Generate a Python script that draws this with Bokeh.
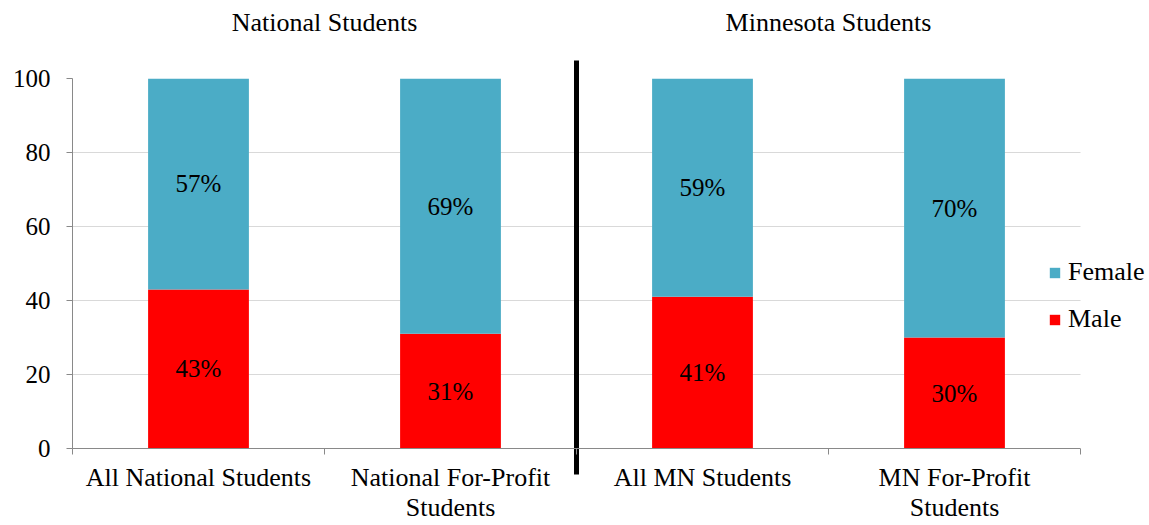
from bokeh.plotting import figure
from bokeh.models import (Range1d, LinearAxis, FixedTicker, Legend, LegendItem,
                          BoxAnnotation, ColumnDataSource)
from bokeh.core.properties import value
from bokeh.embed import file_html
from bokeh.resources import INLINE

# ---- data ----
categories = ["All National Students", "National For-Profit\nStudents",
              "All MN Students", "MN For-Profit\nStudents"]
group_titles = ["National Students", "Minnesota Students"]
group_sizes = [2, 2]
male = [43, 31, 41, 30]
female = [57, 69, 59, 70]
y_ticks = [0, 20, 40, 60, 80, 100]

FONT = "Liberation Serif"
GFONT = value(FONT)
AXIS_GRAY = "#898989"
GRID_GRAY = "#D9D9D9"
TEAL = "#4BACC6"
RED = "#FF0000"

# ---- layout constants (pixels) ----
W, H = 1149, 525
LEFT, TOP, BOTTOM = 72, 78, 76
CAT_AREA_W = 1008            # width taken by the four categories

n = len(categories)
centers = [i + 0.5 for i in range(n)]
edges = [float(i) for i in range(n + 1)]
x_end = n * (W - LEFT) / CAT_AREA_W

group_centers, group_edges, s = [], [], 0
for g in group_sizes:
    group_centers.append(s + g / 2)
    s += g
    group_edges.append(float(s))
separators = group_edges[:-1]

src = ColumnDataSource(dict(
    x=centers,
    Male=male,
    Female=female,
    male_mid=[m / 2 for m in male],
    female_mid=[m + f / 2 for m, f in zip(male, female)],
    male_lbl=[f"{m}%" for m in male],
    female_lbl=[f"{f}%" for f in female],
))

p = figure(x_range=Range1d(0, x_end), y_range=Range1d(0, 100),
           width=W, height=H, output_backend="svg", toolbar_location=None,
           x_axis_location=None, min_border_left=LEFT, min_border_right=0,
           min_border_top=TOP, min_border_bottom=BOTTOM, outline_line_color=None,
           background_fill_color="white", border_fill_color="white")

# ---- y axis ----
yt = FixedTicker(ticks=y_ticks)
p.yaxis.ticker = yt
p.ygrid.ticker = yt
p.yaxis.axis_line_color = AXIS_GRAY
p.yaxis.major_tick_line_color = AXIS_GRAY
p.yaxis.major_tick_out = 6
p.yaxis.major_tick_in = 0
p.yaxis.minor_tick_line_color = None
p.yaxis.major_label_standoff = 16
p.yaxis.major_label_text_font = FONT
p.yaxis.major_label_text_font_size = "25px"
p.yaxis.major_label_text_color = "black"
p.ygrid.grid_line_color = GRID_GRAY
p.ygrid.grid_line_width = 1
p.xgrid.grid_line_color = None

# ---- x axis (category labels, boundary ticks as minor ticks) ----
xaxis = LinearAxis(ticker=FixedTicker(ticks=centers, minor_ticks=edges),
                   major_label_overrides={c: t for c, t in zip(centers, categories)},
                   bounds=(0, n),
                   axis_line_color=AXIS_GRAY,
                   major_tick_line_color=None, major_tick_out=0, major_tick_in=0,
                   minor_tick_line_color=AXIS_GRAY, minor_tick_out=6, minor_tick_in=0,
                   major_label_standoff=8,
                   major_label_text_font=FONT, major_label_text_font_size="26px",
                   major_label_text_color="black",
                   major_label_text_line_height=1.06)
p.add_layout(xaxis, "below")

# ---- top axis: group titles + separator line (as a long minor tick) ----
taxis = LinearAxis(ticker=FixedTicker(ticks=group_centers, minor_ticks=separators),
                   major_label_overrides={c: t for c, t in zip(group_centers, group_titles)},
                   axis_line_color=None,
                   major_tick_line_color=None, major_tick_out=0, major_tick_in=0,
                   minor_tick_line_color="black", minor_tick_line_width=5,
                   minor_tick_out=18, minor_tick_in=396,
                   major_label_standoff=24,
                   major_label_text_font=FONT, major_label_text_font_size="26px",
                   major_label_text_color="black")
p.add_layout(taxis, "above")

# ---- bars ----
rs = p.vbar_stack(["Male", "Female"], x="x", width=0.4, color=[RED, TEAL],
                  line_color=None, source=src)

# ---- data labels ----
for col, lbl in (("male_mid", "male_lbl"), ("female_mid", "female_lbl")):
    p.text(x="x", y=col, text=lbl, source=src, text_align="center",
           text_baseline="middle", text_font=GFONT, text_font_size="25px",
           text_color="black")

# keep the gridlines within the category area (legend area stays blank)
p.add_layout(BoxAnnotation(left=n, fill_color="white", fill_alpha=1, line_color=None))

legend = Legend(items=[LegendItem(label="Female", renderers=[rs[1]]),
                       LegendItem(label="Male", renderers=[rs[0]])],
                location=(976, 114), padding=0, margin=0, spacing=17,
                glyph_width=13, glyph_height=13, label_height=30, label_standoff=7,
                label_text_font=FONT, label_text_font_size="26px",
                label_text_color="black",
                border_line_color=None, background_fill_alpha=0)
p.add_layout(legend)

open("out.html", "w").write(file_html(p, INLINE))
